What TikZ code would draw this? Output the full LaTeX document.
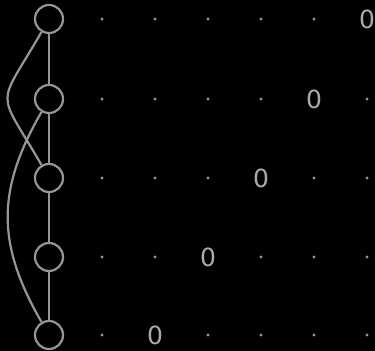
\documentclass[tikz,border=0pt]{standalone}
\usepackage{fontspec}
\setsansfont{DejaVu Sans}
\definecolor{linegray}{RGB}{150,150,150}
\definecolor{textgray}{RGB}{170,170,170}
\tikzset{
    vertex/.style={circle, draw=linegray, line width=1.1pt, minimum size=14pt, inner sep=0pt},
    edge/.style={draw=linegray, line width=1.1pt},
    gridpt/.style={circle, fill=linegray, minimum size=1.6pt, inner sep=0pt},
    entry/.style={text=textgray, font=\sffamily\fontsize{12.5}{12.5}\selectfont, inner sep=0pt}
}
\begin{document}
\begin{tikzpicture}[x=0.5pt, y=0.5pt]
    \fill[black] (0,0) rectangle (375,-351);
    \useasboundingbox (0,0) rectangle (375,-351);
    % vertices
    \node[vertex] (v1) at (49,-19) {};
    \node[vertex] (v2) at (49,-99) {};
    \node[vertex] (v3) at (49,-178) {};
    \node[vertex] (v4) at (49,-257) {};
    \node[vertex] (v5) at (49,-335) {};
    \draw[edge] (v1) -- (v2) -- (v3) -- (v4) -- (v5);
    \draw[edge] (v1.240) to[out=240, in=120, looseness=1.75] (v3.120);
    \draw[edge] (v2.240) to[out=240, in=120, looseness=1.1] (v5.120);
    % matrix entries
    \foreach \r/\y in {0/19, 1/99, 2/178, 3/257, 4/335} {
        \foreach \c in {0,...,5} {
            \pgfmathtruncatemacro{\zc}{5-\r}
            \ifnum\c=\zc
                \node[entry] (e\r\c) at (102+53*\c,-\y) {0};
            \else
                \node[gridpt] (e\r\c) at (102+53*\c,-\y) {};
            \fi
        }
    }
\end{tikzpicture}
\end{document}
